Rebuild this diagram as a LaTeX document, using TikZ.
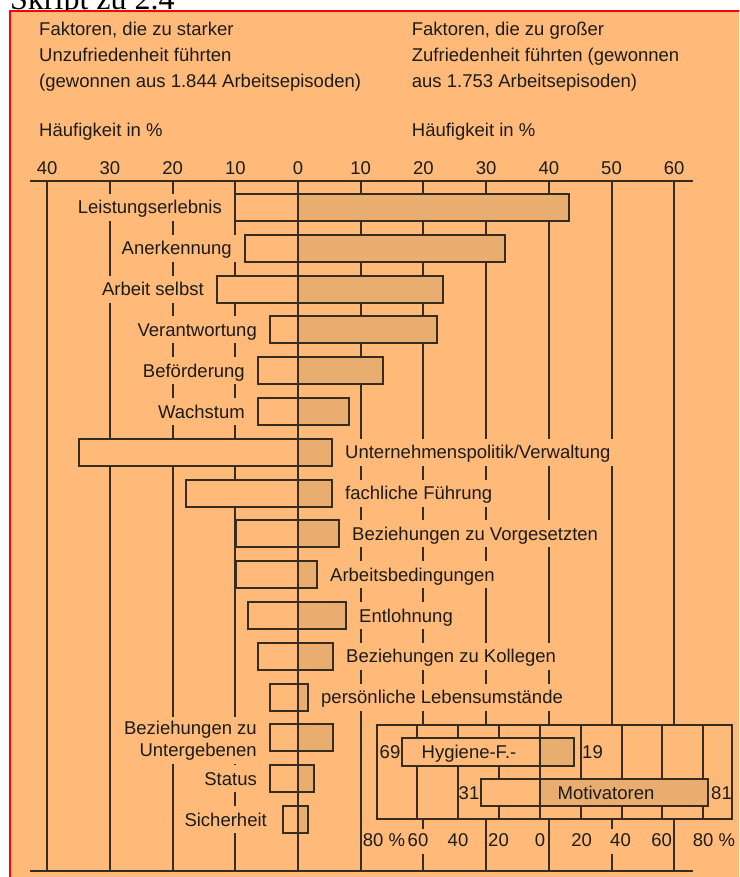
\documentclass[tikz,border=0pt]{standalone}
\usepackage{fontspec}
\setmainfont{Liberation Sans}
\newfontfamily\serifft{Liberation Serif}
\definecolor{bgor}{RGB}{255,185,120}
\definecolor{barfill}{RGB}{233,173,112}
\definecolor{ln}{RGB}{55,44,32}
\definecolor{tx}{RGB}{28,28,28}
\tikzset{
  lbl/.style={font=\fontsize{18.5}{22}\selectfont, text=tx, inner sep=0pt},
  barlbl/.style={lbl, fill=bgor, inner xsep=5pt, inner ysep=7pt, text height=13pt, text depth=0pt},
  scalelbl/.style={lbl, fill=bgor, inner xsep=0pt, inner ysep=4pt, text height=13pt, text depth=4pt, anchor=base},
  gridline/.style={draw=ln, line width=2pt},
  barframe/.style={draw=ln, line width=2pt},
}
\begin{document}
\begin{tikzpicture}[x=1pt,y=-1pt]
\useasboundingbox (0,0) rectangle (739,877);
\clip (0,0) rectangle (739,877);
\fill[white] (0,0) rectangle (739,877);
% title partly hidden
\node[anchor=base west, inner sep=0pt, font=\serifft\fontsize{32}{36}\selectfont] (title) at (10,10) {Skript zu 2.4};
% orange panel with red border
\draw[red, line width=2pt, fill=bgor] (9.5,11.5) rectangle (760,900);
% headers
\node[lbl, anchor=base west] (hl1) at (39,36) {Faktoren, die zu starker};
\node[lbl, anchor=base west] (hl2) at (39,62) {Unzufriedenheit führten};
\node[lbl, anchor=base west] (hl3) at (39,87.5) {(gewonnen aus 1.844 Arbeitsepisoden)};
\node[lbl, anchor=base west] (hl4) at (39,137) {Häufigkeit in \%};
\node[lbl, anchor=base west] (hr1) at (411.7,36) {Faktoren, die zu großer};
\node[lbl, anchor=base west] (hr2) at (411.7,62) {Zufriedenheit führten (gewonnen};
\node[lbl, anchor=base west] (hr3) at (411.7,87.5) {aus 1.753 Arbeitsepisoden)};
\node[lbl, anchor=base west] (hr4) at (411.7,137) {Häufigkeit in \%};
% axis numbers
\foreach \k/\t in {-4/40,-3/30,-2/20,-1/10,0/0,1/10,2/20,3/30,4/40,5/50,6/60}
  \node[lbl, anchor=base] (ax\k) at ({298+62.7*\k},175) {\t};
% axis lines
\draw[gridline] (30,181) -- (693,181);
\draw[gridline] (30,871) -- (693,871);
% grid lines
\foreach \k in {-4,-3,-2,-1,1,2,3,4,5,6}
  \draw[gridline] ({298+62.7*\k},181) -- ({298+62.7*\k},871);
% bars
\foreach \i/\l/\r in {0/235/569, 1/245/505, 2/217/443, 3/270/437, 4/258/383, 5/258/349,
                      6/79/332, 7/186/332, 8/236/339, 9/236/317, 10/248/346, 11/258/333,
                      12/270/308, 13/270/333, 14/270/314, 15/283/308} {
  \pgfmathsetmacro\yc{207.5+40.8*\i}
  \fill[bgor] ({\l},{\yc-13.5}) rectangle (298,{\yc+13.5});
  \fill[barfill] (298,{\yc-13.5}) rectangle ({\r},{\yc+13.5});
  \draw[barframe] ({\l},{\yc-13.5}) rectangle ({\r},{\yc+13.5});
}
% labels
\node[barlbl, anchor=east] (lab0) at (227,207.5) {Leistungserlebnis};
\node[barlbl, anchor=east] (lab1) at (237,248.3) {Anerkennung};
\node[barlbl, anchor=east] (lab2) at (209,289.1) {Arbeit selbst};
\node[barlbl, anchor=east] (lab3) at (262,329.9) {Verantwortung};
\node[barlbl, anchor=east] (lab4) at (250,370.7) {Beförderung};
\node[barlbl, anchor=east] (lab5) at (250,411.5) {Wachstum};
\node[barlbl, anchor=west] (lab6) at (340,452.3) {Unternehmenspolitik/Verwaltung};
\node[barlbl, anchor=west] (lab7) at (340,493.1) {fachliche Führung};
\node[barlbl, anchor=west] (lab8) at (347,533.9) {Beziehungen zu Vorgesetzten};
\node[barlbl, anchor=west] (lab9) at (325,574.7) {Arbeitsbedingungen};
\node[barlbl, anchor=west] (lab10) at (354,615.5) {Entlohnung};
\node[barlbl, anchor=west] (lab11) at (341,656.3) {Beziehungen zu Kollegen};
\node[barlbl, anchor=west] (lab12) at (316,697.1) {persönliche Lebensumstände};
\node[lbl, fill=bgor, inner xsep=5pt, inner ysep=4pt, align=right, anchor=east,
      font=\fontsize{18.5}{22.5}\selectfont] (lab13) at (262,740.5) {Beziehungen zu\\Untergebenen};
\node[barlbl, anchor=east] (lab14) at (262,778.7) {Status};
\node[barlbl, anchor=east] (lab15) at (272,819.5) {Sicherheit};
% zero line
\draw[gridline] (298,181) -- (298,871);
% inset
\draw[barframe, fill=bgor] (377.3,725) rectangle (732.3,819.3);
\foreach \x in {416.7,458.3,499,580.7,621.7,662.3,702.7}
  \draw[gridline] (\x,725) -- (\x,819.3);
\fill[bgor] (401.7,737.7) rectangle (540,765.7);
\fill[barfill] (540,737.7) rectangle (574.3,765.7);
\draw[barframe] (401.7,737.7) rectangle (574.3,765.7);
\fill[bgor] (480.7,779.3) rectangle (540,805.7);
\fill[barfill] (540,779.3) rectangle (708.3,805.7);
\draw[barframe] (480.7,779.3) rectangle (708.3,805.7);
\draw[gridline] (540,725) -- (540,819.3);
\node[lbl, anchor=base] (hyg) at (469,758.2) {Hygiene-F.-};
\node[lbl, anchor=base] (mot) at (606,799) {Motivatoren};
\node[lbl, anchor=base] (n69) at (390,758.2) {69};
\node[lbl, anchor=base] (n19) at (592.5,758.2) {19};
\node[lbl, anchor=base] (n31) at (469,799) {31};
\node[lbl, anchor=base] (n81) at (721.5,799) {81};
% inset scale
\node[scalelbl, anchor=base west] (s80l) at (362.7,846) {80 \%};
\node[scalelbl] (s60l) at (418,846) {60};
\node[scalelbl] (s40l) at (458,846) {40};
\node[scalelbl] (s20l) at (498.5,846) {20};
\node[scalelbl] (s0) at (540,846) {0};
\node[scalelbl] (s20r) at (581.7,846) {20};
\node[scalelbl] (s40r) at (620.5,846) {40};
\node[scalelbl] (s60r) at (661.7,846) {60};
\node[scalelbl, anchor=base west] (s80r) at (692.7,846) {80 \%};
\end{tikzpicture}
\end{document}
